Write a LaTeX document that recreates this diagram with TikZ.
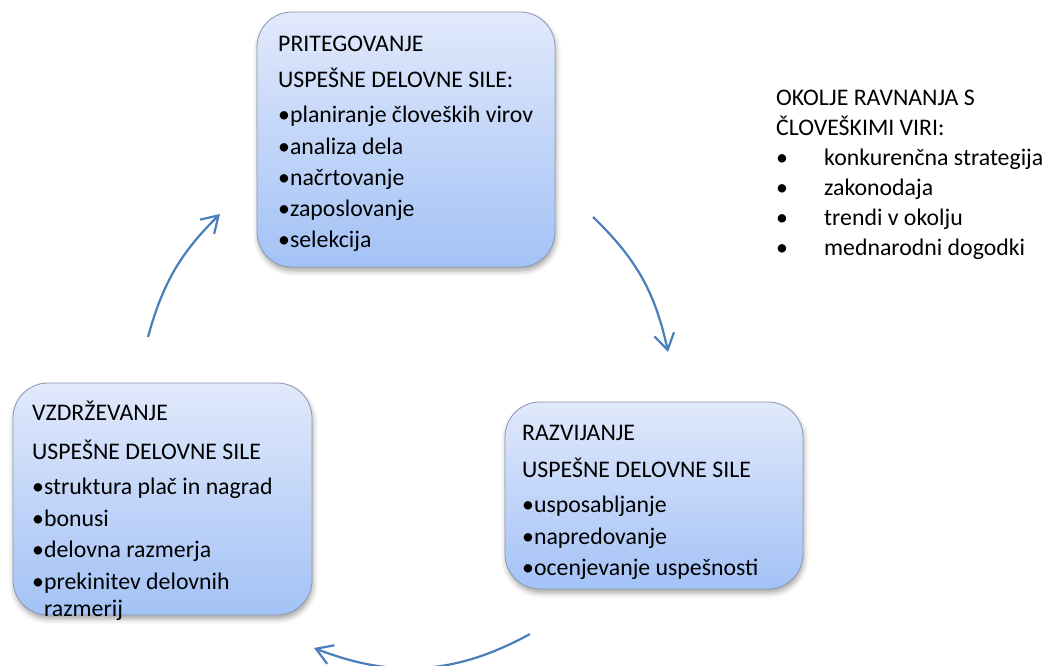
\documentclass[tikz,border=0pt]{standalone}
\usepackage{fontspec}
\setmainfont{Carlito}
\usetikzlibrary{arrows.meta,shadows.blur}
\definecolor{boxtop}{HTML}{E1E9FB}
\definecolor{boxbot}{HTML}{A3C2F6}
\definecolor{boxedge}{HTML}{8A98AE}
\definecolor{arrowblue}{HTML}{4A7EBB}
% first-line strut: the node top lies 20pt above the first baseline
\newcommand{\firstline}{\rule{0pt}{20pt}}
\tikzset{
  phasebox/.style={rounded corners=35pt, top color=boxtop, bottom color=boxbot,
    draw=boxedge, line width=0.8pt,
    blur shadow={shadow xshift=1pt, shadow yshift=-4pt, shadow blur radius=5pt, shadow opacity=35},
    inner sep=0pt},
  boxtext/.style={anchor=north west, align=left, inner sep=0pt,
    font=\fontsize{23.8}{28}\selectfont},
  cyclearrow/.style={draw=arrowblue, line width=2.2pt,
    -{Straight Barb[length=16pt,width=20pt,line width=2.2pt]}},
}
\begin{document}
\begin{tikzpicture}[x=1pt,y=-1pt]
\useasboundingbox (0,0) rectangle (1057,666);

% three phase boxes
\node[phasebox, minimum width=298pt, minimum height=255pt] (pri) at (406,139.5) {};
\node[phasebox, minimum width=298pt, minimum height=187pt] (raz) at (654,495.5) {};
\node[phasebox, minimum width=299pt, minimum height=232pt] (vzd) at (162.5,499) {};

% box contents (top edge = first baseline - 20)
\node[boxtext] (pritext) at (278,31.5) {\firstline PRITEGOVANJE\\[8pt]
  USPEŠNE DELOVNE SILE:\\[7pt]
  •planiranje človeških virov\\[4pt]
  •analiza dela\\[3pt]
  •načrtovanje\\[3pt]
  •zaposlovanje\\[3pt]
  •selekcija};
\node[boxtext] (raztext) at (522,420.5) {\firstline RAZVIJANJE\\[9pt]
  USPEŠNE DELOVNE SILE\\[7pt]
  •usposabljanje\\[4pt]
  •napredovanje\\[3pt]
  •ocenjevanje uspešnosti};
\node[boxtext] (vzdtext) at (32,400.5) {\firstline VZDRŽEVANJE\\[11pt]
  USPEŠNE DELOVNE SILE\\[7pt]
  •struktura plač in nagrad\\[4pt]
  •bonusi\\[3pt]
  •delovna razmerja\\[4pt]
  •prekinitev delovnih\\[-1pt]
  \hphantom{•}razmerij};

% environment list
\node[anchor=north west, align=left, inner sep=0pt,
      font=\fontsize{23.8}{30}\selectfont] (okolje) at (776,85.5) {\firstline OKOLJE RAVNANJA S\\
  ČLOVEŠKIMI VIRI:\\
  \makebox[48pt][l]{•}konkurenčna strategija\\
  \makebox[48pt][l]{•}zakonodaja\\
  \makebox[48pt][l]{•}trendi v okolju\\
  \makebox[48pt][l]{•}mednarodni dogodki};

% cycle arrows
\coordinate (a1s) at (593,217);
\coordinate (a1e) at (668,352);
\coordinate (a2s) at (530,634);
\coordinate (a2e) at (314,648);
\coordinate (a3s) at (148,337);
\coordinate (a3e) at (220,214);
\draw[cyclearrow] (a1s) to[bend left=17] (a1e);
\draw[cyclearrow] (a2s) to[bend left=25] (a2e);
\draw[cyclearrow] (a3s) to[bend left=15] (a3e);
\end{tikzpicture}
\end{document}
